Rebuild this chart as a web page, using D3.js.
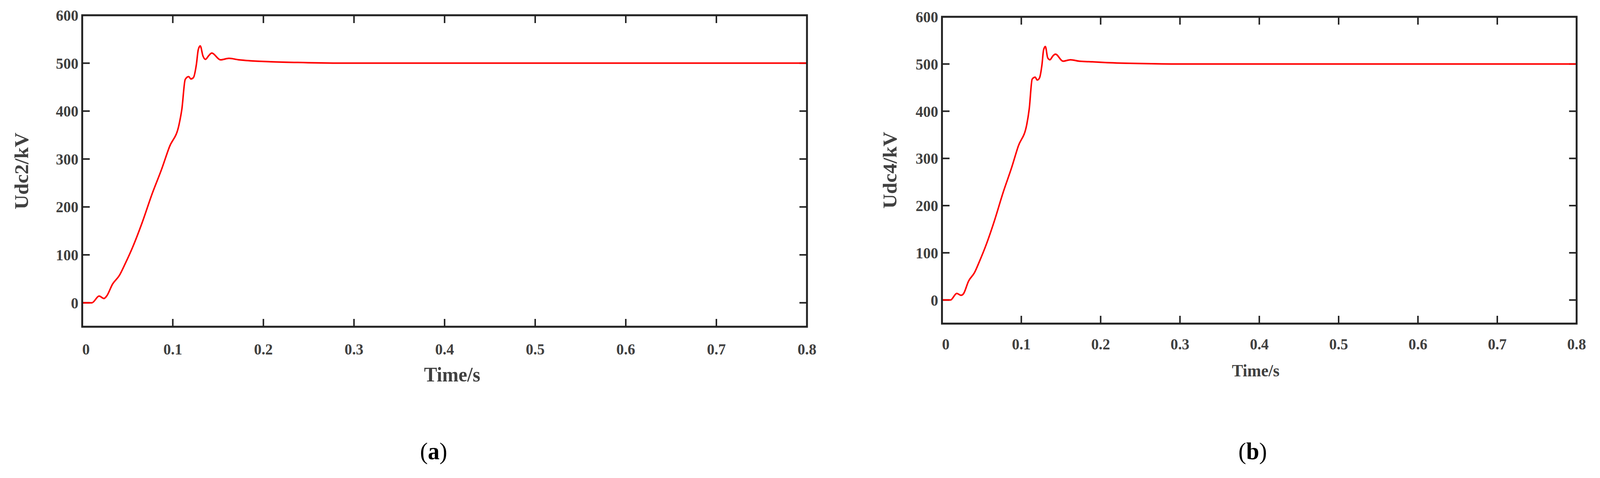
<!DOCTYPE html>
<html>
<head>
<meta charset="utf-8">
<script src="https://cdn.jsdelivr.net/npm/d3@7"></script>
<style>
  html, body { margin: 0; padding: 0; background: #fff; overflow: hidden; }
  svg { display: block; width: 100vw; height: 100vh; }
  text { font-family: "Liberation Serif", "Times New Roman", serif; }
</style>
</head>
<body>
<svg id="fig" viewBox="0 0 4243 1223" preserveAspectRatio="none"></svg>
<script>
// time (s) and voltage (kV)
var timeS = [0, 0.0107, 0.0187, 0.024, 0.027, 0.0335, 0.041, 0.0473, 0.0559, 0.0665, 0.0771, 0.0877,
             0.0962, 0.1069, 0.110, 0.1137, 0.1175, 0.120, 0.1228, 0.126, 0.1281, 0.1303, 0.1333,
             0.136, 0.1398, 0.143, 0.1526, 0.162, 0.1728, 0.185, 0.208, 0.25, 0.3, 0.4, 0.6, 0.8];
var udc2 = [0, 0, 14, 9, 14, 39, 57, 81, 117, 169, 227, 279,
            325, 372, 404, 466, 472, 467, 470, 497, 528, 536, 515,
            508, 516, 521, 507, 510, 507, 505, 503, 501, 500, 500, 500, 500];
var udc4 = [0, 0, 14, 10, 13, 40, 58, 82, 118, 170, 228, 280,
            326, 372, 405, 468, 472, 466, 470, 498, 530, 537, 513,
            509, 517, 521, 506, 509, 506, 505, 503, 501, 500, 500, 500, 500];
var yTicks = [0, 100, 200, 300, 400, 500, 600];
var xTicks = [0, 0.1, 0.2, 0.3, 0.4, 0.5, 0.6, 0.7, 0.8];

var panels = [
  { left: 218, top: 39, right: 2140, bottom: 836, values: udc2, ylabel: "Udc2/kV", ylabelX: 56,
    xlabelSize: 52, xlabelX: 1199, xlabelY: 958, tickY: 893, tag: "a", tagX: 1150 },
  { left: 2498, top: 43, right: 4181, bottom: 828, values: udc4, ylabel: "Udc4/kV", ylabelX: 2359,
    xlabelSize: 44, xlabelX: 3330, xlabelY: 948, tickY: 880, tag: "b", tagX: 3322 }
];

var svg = d3.select("#fig");
var ink = "#404040";

panels.forEach(function(p) {
  var x = d3.scaleLinear().domain([0, 0.8]).range([p.left, p.right]);
  var y = d3.scaleLinear().domain([-50, 600]).range([p.bottom, p.top]);
  var g = svg.append("g");

  // inward ticks on all four sides
  var tl = 20;
  xTicks.slice(1, -1).forEach(function(t) {
    g.append("line").attr("x1", x(t)).attr("x2", x(t)).attr("y1", p.bottom).attr("y2", p.bottom - tl)
      .attr("stroke", "#222").attr("stroke-width", 4);
    g.append("line").attr("x1", x(t)).attr("x2", x(t)).attr("y1", p.top).attr("y2", p.top + tl)
      .attr("stroke", "#222").attr("stroke-width", 4);
  });
  yTicks.forEach(function(v) {
    g.append("line").attr("x1", p.left).attr("x2", p.left + tl).attr("y1", y(v)).attr("y2", y(v))
      .attr("stroke", "#222").attr("stroke-width", 4);
    g.append("line").attr("x1", p.right).attr("x2", p.right - tl).attr("y1", y(v)).attr("y2", y(v))
      .attr("stroke", "#222").attr("stroke-width", 4);
  });

  // signal
  var pts = timeS.map(function(t, i) { return [t, p.values[i]]; });
  g.append("path").datum(pts)
    .attr("d", d3.line().x(function(d) { return x(d[0]); }).y(function(d) { return y(d[1]); })
      .curve(d3.curveMonotoneX))
    .attr("fill", "none").attr("stroke", "#ff0000").attr("stroke-width", 4);

  // frame
  g.append("rect").attr("x", p.left).attr("y", p.top)
    .attr("width", p.right - p.left).attr("height", p.bottom - p.top)
    .attr("fill", "none").attr("stroke", "#222").attr("stroke-width", 5);

  // tick labels
  g.selectAll(".yl").data(yTicks).enter().append("text")
    .attr("x", p.left - 10).attr("y", function(d) { return y(d); }).attr("dy", "0.35em")
    .attr("text-anchor", "end").attr("font-size", 40).attr("font-weight", "bold").attr("fill", ink)
    .text(function(d) { return d; });
  g.selectAll(".xl").data(xTicks).enter().append("text")
    .attr("x", function(d) { return x(d); }).attr("y", p.tickY).attr("dy", "0.35em")
    .attr("text-anchor", function(d, i) { return i === 0 ? "start" : "middle"; })
    .attr("font-size", 40).attr("font-weight", "bold").attr("fill", ink)
    .text(function(d) { return d; });

  // axis titles
  g.append("text").attr("transform", "translate(" + p.ylabelX + "," + ((p.top + p.bottom) / 2) + ") rotate(-90)")
    .attr("dy", "0.35em").attr("text-anchor", "middle").attr("font-size", 52).attr("font-weight", "bold")
    .attr("fill", ink).text(p.ylabel);
  g.append("text").attr("x", p.xlabelX).attr("y", p.xlabelY).attr("dy", "0.35em")
    .attr("text-anchor", "middle").attr("font-size", p.xlabelSize).attr("font-weight", "bold")
    .attr("fill", ink).text("Time/s");

  // panel tag
  var tag = g.append("text").attr("x", p.tagX).attr("y", 1153)
    .attr("dy", "0.35em").attr("text-anchor", "middle").attr("font-size", 62).attr("fill", "#000");
  tag.append("tspan").text("(");
  tag.append("tspan").attr("font-weight", "bold").text(p.tag);
  tag.append("tspan").text(")");
});
</script>
</body>
</html>
